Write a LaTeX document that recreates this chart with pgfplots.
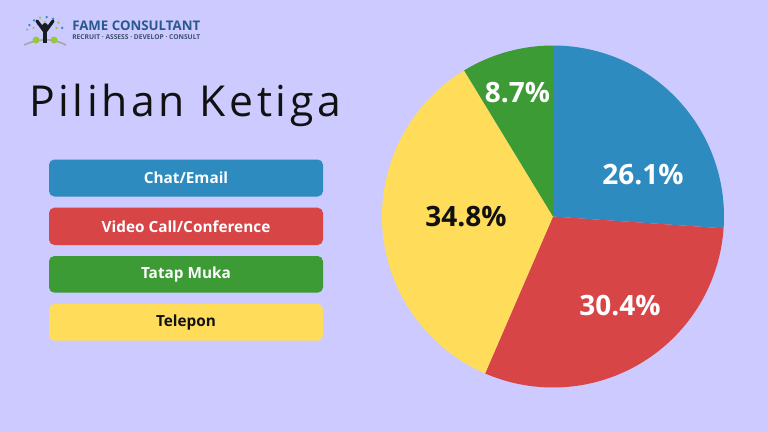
\documentclass[border=0pt]{standalone}
\usepackage{pgfplots}
\pgfplotsset{compat=1.18}
\usepackage{pgfplotstable}
\usetikzlibrary{calc}
\usepackage{fontspec}
\setmainfont{Open Sans}
\newfontfamily\titlefont[LetterSpace=8.5]{Open Sans}
\definecolor{bg}{RGB}{204,202,254}
\definecolor{cblue}{RGB}{46,139,192}
\definecolor{cred}{RGB}{215,69,71}
\definecolor{cgreen}{RGB}{60,155,53}
\definecolor{cyellow}{RGB}{255,221,90}
\definecolor{navy}{RGB}{43,88,140}
\definecolor{subnavy}{RGB}{60,80,110}
\definecolor{ink}{RGB}{17,17,17}
\definecolor{lgreen}{RGB}{150,200,60}

\pgfplotstableread{
idx value
0 26.1
1 30.4
2 34.8
3 8.7
}\piedata

\begin{document}
\begin{tikzpicture}
\pgfplotstablegetelem{0}{value}\of\piedata \pgfmathsetmacro\va{\pgfplotsretval}
\pgfplotstablegetelem{1}{value}\of\piedata \pgfmathsetmacro\vb{\pgfplotsretval}
\pgfplotstablegetelem{2}{value}\of\piedata \pgfmathsetmacro\vc{\pgfplotsretval}
\pgfplotstablegetelem{3}{value}\of\piedata \pgfmathsetmacro\vd{\pgfplotsretval}
\pgfmathsetmacro\aA{90-3.6*\va}
\pgfmathsetmacro\aB{\aA-3.6*\vb}
\pgfmathsetmacro\aC{\aB-3.6*\vc}
\pgfmathsetmacro\aD{\aC-3.6*\vd}
\pgfmathsetmacro\aCp{\aC+360}
\begin{scope}[x=0.75pt,y=-0.75pt]
\fill[bg] (0,0) rectangle (768,432);
\useasboundingbox (0,0) rectangle (768,432);
% logo
\draw[gray!70, line width=1.2pt] (24,45) .. controls (40,38) and (52,38) .. (66,45);
\foreach \ang/\col in {25/cblue,45/lgreen,65/cblue,85/cblue,105/lgreen,125/cblue,145/cblue,160/lgreen}{
  \fill[\col] ($(45,36)+(-\ang:19)$) circle (1.3);
}
\foreach \ang/\col in {35/lgreen,60/cblue,90/lgreen,120/cblue,145/lgreen}{
  \fill[\col] ($(45,36)+(-\ang:14)$) circle (1.1);
}
\fill[lgreen] (36,40) circle (3.5);
\fill[lgreen] (54,40) circle (3.5);
\fill[ink!85!navy] (45,26) circle (3);
\draw[ink!85!navy, line width=2.4pt, line cap=round, line join=round] (37,21) -- (45,32) -- (53,21);
\draw[ink!85!navy, line width=3pt] (45,31) -- (45,43);
\node[anchor=south west, inner sep=0pt, text=navy] at (72,31)
  {\resizebox{96pt}{!}{\bfseries FAME CONSULTANT}};
\node[anchor=north west, inner sep=0pt, text=subnavy] at (72,34)
  {\resizebox{96pt}{!}{\bfseries RECRUIT · ASSESS · DEVELOP · CONSULT}};
% title
\node[anchor=base west, inner sep=0pt, text=ink] at (29,116.5)
  {\titlefont\fontsize{32}{33}\selectfont Pilihan Ketiga};
% legend boxes
\fill[cblue, rounded corners=4pt] (49,159.5) rectangle (323,196.5);
\fill[cred, rounded corners=4pt] (49,207.7) rectangle (323,245);
\fill[cgreen, rounded corners=4pt] (49,256) rectangle (323,292.7);
\fill[cyellow, rounded corners=4pt] (49,304) rectangle (323,340.7);
\node[text=white, font=\bfseries\fontsize{11.5}{12}\selectfont] at (186,178) {Chat/Email};
\node[text=white, font=\bfseries\fontsize{11.5}{12}\selectfont] at (186,226.3) {Video Call/Conference};
\node[text=white, font=\bfseries\fontsize{11.5}{12}\selectfont] at (186,274.3) {Tatap Muka};
\node[text=ink, font=\bfseries\fontsize{11.5}{12}\selectfont] at (186,322.3) {Telepon};
\end{scope}
\begin{axis}[at={(414.75pt,-162.375pt)}, anchor=center, width=256.5pt, height=256.5pt,
  scale only axis, xmin=-1, xmax=1, ymin=-1, ymax=1, hide axis, clip=false]
\addplot[fill=cblue, draw=none, domain=\aA:90, samples=80] ({cos(x)},{sin(x)}) -- (axis cs:0,0) -- cycle;
\addplot[fill=cred, draw=none, domain=\aB:\aA, samples=80] ({cos(x)},{sin(x)}) -- (axis cs:0,0) -- cycle;
\addplot[fill=cyellow, draw=none, domain=\aC:\aB, samples=80] ({cos(x)},{sin(x)}) -- (axis cs:0,0) -- cycle;
\addplot[fill=cgreen, draw=none, domain=90:\aCp, samples=40] ({cos(x)},{sin(x)}) -- (axis cs:0,0) -- cycle;
\node[text=white, font=\bfseries\fontsize{21}{21}\selectfont] at (axis cs:0.526,0.243) {26.1\%};
\node[text=white, font=\bfseries\fontsize{21}{21}\selectfont] at (axis cs:0.392,-0.518) {30.4\%};
\node[text=ink, font=\bfseries\fontsize{21}{21}\selectfont] at (axis cs:-0.509,-0.003) {34.8\%};
\node[text=white, font=\bfseries\fontsize{21}{21}\selectfont] at (axis cs:-0.208,0.725) {8.7\%};
\end{axis}
\end{tikzpicture}
\end{document}
